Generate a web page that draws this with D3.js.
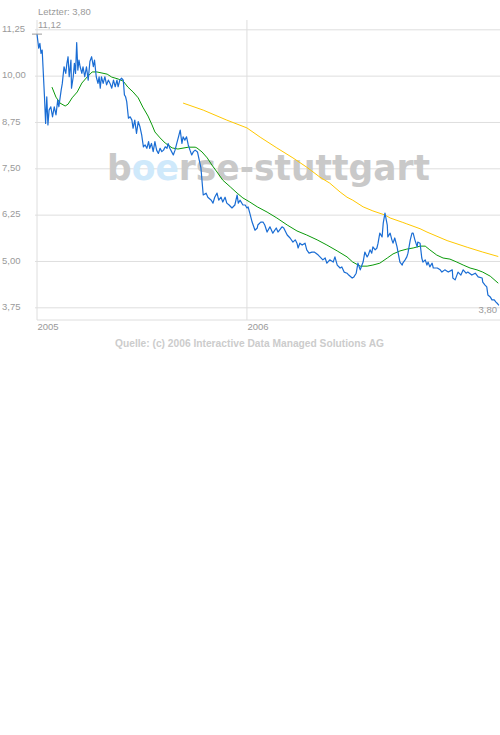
<!DOCTYPE html>
<html><head><meta charset="utf-8">
<script src="https://cdn.jsdelivr.net/npm/d3@7"></script>
<style>body{margin:0;background:#fff}svg{display:block}</style>
</head><body>
<svg id="c" width="500" height="735"></svg>
<script>
// ---- data (day offset from 2005-01-01, value) ----
const yTicks = [3.75, 5.00, 6.25, 7.50, 8.75, 10.00, 11.25];
const xTickYears = [2005, 2006];
const lastValue = 3.80;
const highValue = 11.12;
const price = [
[0,11.12],[3,10.74],[5,10.87],[7,10.60],[9,10.69],[13,9.43],[15,8.71],[17,9.43],[19,8.67],[21,9.07],[24,9.16],[27,8.89],[30,9.16],[33,8.94],[36,9.34],[38,9.16],[42,9.61],[44,9.79],[47,10.24],[50,10.06],[52,10.33],[54,10.51],[56,9.97],[59,10.42],[60,9.66],[63,9.97],[65,10.33],[67,10.06],[69,10.89],[71,10.15],[73,10.42],[75,10.24],[78,10.06],[80,10.24],[83,9.97],[86,10.24],[89,9.88],[92,10.38],[95,10.51],[98,10.24],[100,10.42],[103,9.97],[106,9.79],[108,9.97],[110,9.66],[112,9.97],[115,9.79],[118,9.97],[121,9.75],[124,9.88],[127,9.79],[130,9.66],[133,9.88],[136,9.70],[139,9.88],[141,9.70],[144,9.88],[147,9.93],[150,9.88],[152,9.48],[154,9.43],[156,9.30],[159,8.85],[162,8.89],[165,8.80],[167,8.58],[170,8.80],[173,8.44],[176,8.76],[179,8.62],[182,8.40],[185,8.08],[188,8.13],[191,8.04],[194,8.22],[196,8.04],[199,8.17],[202,7.95],[205,8.22],[208,7.99],[211,7.90],[214,8.04],[217,7.95],[220,7.99],[223,8.08],[226,8.04],[228,8.17],[231,8.04],[234,7.95],[237,7.86],[240,7.99],[243,8.17],[246,8.35],[249,8.53],[252,8.17],[254,8.35],[257,8.26],[260,8.35],[263,8.13],[266,7.99],[269,7.86],[272,7.95],[275,7.99],[279,7.94],[285,7.51],[289,6.78],[294,6.83],[297,6.72],[303,6.64],[306,6.56],[309,6.72],[313,6.83],[316,6.64],[320,6.72],[323,6.59],[327,6.72],[330,6.56],[334,6.51],[339,6.43],[344,6.51],[348,6.78],[350,6.56],[353,6.64],[358,6.51],[362,6.51],[365,6.43],[367,6.46],[370,6.29],[374,6.05],[379,5.83],[383,5.89],[384,5.97],[389,6.05],[393,6.05],[396,5.97],[400,5.78],[405,5.92],[410,5.75],[416,5.89],[419,5.78],[426,5.92],[429,5.89],[435,5.70],[440,5.62],[445,5.51],[449,5.57],[452,5.48],[454,5.35],[457,5.48],[461,5.43],[466,5.48],[469,5.30],[473,5.21],[478,5.24],[482,5.24],[485,5.21],[489,5.16],[492,5.11],[497,5.03],[501,5.08],[504,4.94],[509,5.03],[515,4.97],[518,5.11],[522,4.89],[527,4.81],[530,4.84],[534,4.70],[539,4.67],[542,4.62],[548,4.54],[551,4.57],[555,4.67],[558,4.94],[562,4.76],[565,4.89],[567,4.97],[570,5.24],[574,5.11],[576,5.16],[579,5.30],[582,5.21],[584,5.38],[588,5.30],[591,5.35],[593,5.48],[596,5.75],[600,5.65],[602,6.02],[605,6.29],[609,5.97],[610,5.65],[614,5.75],[617,5.57],[619,5.48],[622,5.62],[626,5.38],[628,5.21],[631,4.97],[635,4.89],[636,4.94],[640,5.03],[643,5.11],[645,5.21],[649,5.57],[652,5.75],[654,5.75],[657,5.57],[661,5.38],[662,5.51],[666,5.48],[669,5.08],[671,4.97],[675,5.03],[678,4.89],[680,4.97],[683,4.84],[687,4.94],[689,4.81],[696,4.81],[701,4.76],[704,4.70],[709,4.76],[715,4.70],[722,4.76],[723,4.54],[727,4.49],[732,4.70],[737,4.62],[741,4.76],[746,4.67],[749,4.70],[756,4.62],[762,4.67],[767,4.57],[774,4.54],[775,4.43],[779,4.35],[782,4.30],[784,4.08],[788,4.03],[791,3.95],[795,3.95],[798,3.89],[800,3.86],[803,3.80]
];
const maShort = [
[26,9.69],[33,9.42],[40,9.26],[49,9.18],[54,9.23],[61,9.40],[70,9.56],[78,9.80],[87,9.96],[96,10.10],[104,10.10],[113,10.07],[122,10.04],[130,9.96],[141,9.91],[150,9.85],[158,9.69],[167,9.56],[176,9.40],[184,9.15],[193,8.91],[200,8.67],[205,8.48],[214,8.32],[223,8.18],[235,8.05],[245,8.02],[263,8.07],[275,8.07],[278,8.05],[287,7.94],[296,7.78],[304,7.59],[313,7.40],[323,7.18],[336,7.00],[348,6.83],[358,6.70],[370,6.59],[383,6.46],[400,6.32],[417,6.16],[435,5.97],[452,5.81],[469,5.70],[487,5.57],[504,5.43],[522,5.27],[539,5.11],[549,4.97],[562,4.86],[574,4.86],[584,4.89],[596,4.94],[609,5.08],[619,5.19],[631,5.27],[643,5.32],[654,5.35],[666,5.40],[675,5.40],[683,5.30],[695,5.16],[706,5.08],[718,5.05],[730,4.97],[741,4.89],[753,4.81],[765,4.76],[775,4.70],[788,4.59],[802,4.40]
];
const maLong = [
[254,9.26],[289,9.07],[330,8.80],[365,8.59],[388,8.34],[417,8.05],[445,7.78],[469,7.53],[492,7.26],[509,7.10],[527,6.86],[539,6.72],[549,6.64],[567,6.46],[584,6.35],[605,6.24],[614,6.16],[636,6.04],[643,6.00],[666,5.87],[678,5.78],[713,5.55],[748,5.37],[775,5.24],[802,5.12]
];

// ---- layout ----
const L = 37, R = 500, T = 20, B = 320;
const start = Date.UTC(2005, 0, 1);
const toDate = d => new Date(start + d * 864e5);
const x = d3.scaleUtc().domain([new Date(start), new Date(Date.UTC(2007, 2, 17))]).range([L, R]);
const y = d3.scaleLinear().domain([3.75, 11.25]).range([307.3, 29.3]);
const fmt = v => d3.format(".2f")(v).replace(".", ",");
const svg = d3.select("#c");
const grid = "#dedede", lab = "#9a9a9a";
const font = "'Liberation Sans', Arial, sans-serif";

// horizontal grid + y labels
const ya = svg.append("g").attr("transform", `translate(${L},0)`)
  .call(d3.axisLeft(y).tickValues(yTicks).tickSize(-(R - L)).tickFormat(fmt));
ya.select(".domain").remove();
ya.selectAll(".tick line").attr("stroke", grid).attr("x1", -2);
ya.selectAll(".tick text").attr("x", -(L - 2)).attr("text-anchor", "start").attr("dy", "0.22em")
  .attr("fill", lab).style("font-family", font).style("font-size", "9.5px");

// vertical grid at year starts + frame
const yearDates = xTickYears.map(yr => new Date(Date.UTC(yr, 0, 1)));
svg.append("g").selectAll("line").data(yearDates).join("line")
  .attr("x1", d => x(d)).attr("x2", d => x(d)).attr("y1", T).attr("y2", B)
  .attr("stroke", grid);
svg.append("line").attr("x1", L).attr("x2", R).attr("y1", B).attr("y2", B).attr("stroke", grid);

// x labels
const xa = svg.append("g").attr("transform", `translate(0,${B})`)
  .call(d3.axisBottom(x).tickValues(yearDates).tickSize(0).tickFormat(d3.utcFormat("%Y")));
xa.select(".domain").remove();
xa.selectAll(".tick text").attr("text-anchor", "start").attr("y", 10).attr("dy", 0)
  .attr("fill", lab).style("font-family", font).style("font-size", "9.5px");

// watermark
const wm = svg.append("text").attr("x", 107).attr("y", 179.5)
  .attr("textLength", 323).attr("lengthAdjust", "spacingAndGlyphs")
  .style("font-family", "'DejaVu Sans', Verdana, sans-serif").style("font-weight", "bold").style("font-size", "35px");
wm.append("tspan").attr("fill", "#c9c9c9").text("b");
wm.append("tspan").attr("fill", "#cfe9fb").text("oe");
wm.append("tspan").attr("fill", "#c9c9c9").text("rse-stuttgart");

// lines
const line = d3.line().x(d => x(toDate(d[0]))).y(d => y(d[1]));
svg.append("path").datum(maLong).attr("d", line).attr("fill", "none").attr("stroke", "#ffc800").attr("stroke-width", 1);
svg.append("path").datum(maShort).attr("d", line).attr("fill", "none").attr("stroke", "#0a9a0a").attr("stroke-width", 1);
svg.append("path").datum(price).attr("d", line).attr("fill", "none").attr("stroke", "#1a6dd4").attr("stroke-width", 1.2).attr("stroke-linejoin", "round");

// high marker + labels
const hy = y(highValue);
svg.append("line").attr("x1", L - 5).attr("x2", L + 5).attr("y1", hy).attr("y2", hy).attr("stroke", "#9a9a9a");
svg.append("text").attr("x", L + 1).attr("y", 28).text(fmt(highValue))
  .attr("fill", lab).style("font-family", font).style("font-size", "9.5px");
svg.append("text").attr("x", L + 1).attr("y", 15).text("Letzter: " + fmt(lastValue))
  .attr("fill", lab).style("font-family", font).style("font-size", "9.5px");
svg.append("text").attr("x", 497).attr("y", 313).attr("text-anchor", "end").text(fmt(lastValue))
  .attr("fill", lab).style("font-family", font).style("font-size", "9.5px");

// source
svg.append("text").attr("x", 115).attr("y", 347).attr("textLength", 269).attr("lengthAdjust", "spacingAndGlyphs")
  .text("Quelle: (c) 2006 Interactive Data Managed Solutions AG")
  .attr("fill", "#cccccc").style("font-family", font).style("font-weight", "bold").style("font-size", "10px");
</script>
</body></html>
